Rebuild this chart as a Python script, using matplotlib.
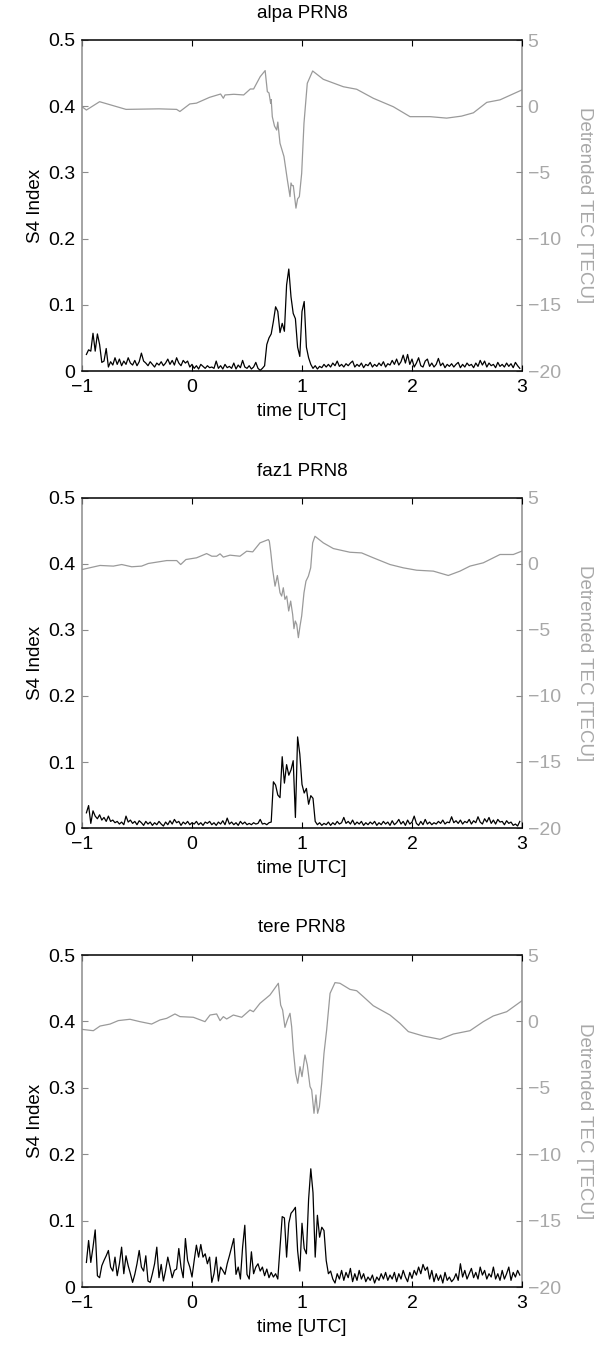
import numpy as np
import matplotlib
matplotlib.use("Agg")
import matplotlib.pyplot as plt

plt.rcParams['font.family'] = ['Liberation Sans', 'DejaVu Sans']

titles = ["alpa PRN8", "faz1 PRN8", "tere PRN8"]
xticks = [-1, 0, 1, 2, 3]
s4_ticks = [0, 0.1, 0.2, 0.3, 0.4, 0.5]
tec_ticks = [-20, -15, -10, -5, 0, 5]

# S4 sampling times (hours UTC), every 0.02 h
s4_time = np.arange(198) * 0.02 - 0.96

s4_alpa = [
    0.025, 0.032, 0.030, 0.057, 0.030, 0.056, 0.040, 0.013, 0.015, 0.034,
    0.006, 0.014, 0.009, 0.020, 0.010, 0.018, 0.008, 0.015, 0.010, 0.020,
    0.012, 0.009, 0.016, 0.008, 0.014, 0.027, 0.015, 0.012, 0.008, 0.014,
    0.010, 0.006, 0.012, 0.009, 0.014, 0.008, 0.012, 0.018, 0.010, 0.016,
    0.009, 0.020, 0.012, 0.008, 0.016, 0.012, 0.015, 0.006, 0.010, 0.004,
    0.008, 0.003, 0.010, 0.007, 0.004, 0.008, 0.005, 0.006, 0.004, 0.015,
    0.004, 0.008, 0.003, 0.010, 0.005, 0.007, 0.004, 0.012, 0.003, 0.009,
    0.005, 0.016, 0.006, 0.004, 0.008, 0.003, 0.006, 0.013, 0.004, 0.001,
    0.004, 0.008, 0.040, 0.050, 0.056, 0.075, 0.097, 0.090, 0.058, 0.072,
    0.060, 0.130, 0.154, 0.112, 0.087, 0.079, 0.036, 0.022, 0.090, 0.105,
    0.036, 0.020, 0.010, 0.004, 0.008, 0.003, 0.007, 0.005, 0.010, 0.006,
    0.010, 0.006, 0.012, 0.008, 0.015, 0.007, 0.010, 0.006, 0.011, 0.008,
    0.012, 0.015, 0.006, 0.010, 0.007, 0.012, 0.005, 0.010, 0.008, 0.013,
    0.006, 0.010, 0.007, 0.012, 0.008, 0.014, 0.006, 0.011, 0.009, 0.016,
    0.010, 0.018, 0.009, 0.014, 0.024, 0.012, 0.025, 0.010, 0.018, 0.006,
    0.012, 0.020, 0.008, 0.006, 0.015, 0.018, 0.007, 0.012, 0.006, 0.010,
    0.019, 0.008, 0.012, 0.005, 0.010, 0.007, 0.011, 0.006, 0.010, 0.013,
    0.005, 0.010, 0.006, 0.012, 0.008, 0.010, 0.005, 0.012, 0.007, 0.016,
    0.009, 0.015, 0.006, 0.012, 0.008, 0.010, 0.005, 0.013, 0.007, 0.010,
    0.006, 0.012, 0.007, 0.011, 0.005, 0.013, 0.008, 0.004,
]

s4_faz1 = [
    0.023, 0.034, 0.007, 0.026, 0.018, 0.014, 0.020, 0.012, 0.016, 0.010,
    0.018, 0.010, 0.012, 0.008, 0.010, 0.006, 0.009, 0.005, 0.018, 0.009,
    0.012, 0.007, 0.010, 0.005, 0.011, 0.008, 0.004, 0.010, 0.006, 0.009,
    0.004, 0.008, 0.005, 0.010, 0.006, 0.003, 0.009, 0.005, 0.011, 0.006,
    0.013, 0.008, 0.010, 0.004, 0.009, 0.006, 0.010, 0.005, 0.008, 0.006,
    0.010, 0.005, 0.008, 0.004, 0.009, 0.007, 0.010, 0.005, 0.008, 0.004,
    0.009, 0.006, 0.011, 0.005, 0.015, 0.006, 0.009, 0.005, 0.008, 0.004,
    0.010, 0.006, 0.009, 0.005, 0.007, 0.005, 0.008, 0.006, 0.007, 0.013,
    0.006, 0.007, 0.005, 0.008, 0.009, 0.070, 0.065, 0.050, 0.046, 0.108,
    0.068, 0.096, 0.080, 0.088, 0.102, 0.016, 0.138, 0.112, 0.066, 0.053,
    0.060, 0.036, 0.049, 0.045, 0.010, 0.005, 0.008, 0.004, 0.007, 0.005,
    0.009, 0.004, 0.008, 0.005, 0.010, 0.006, 0.008, 0.016, 0.007, 0.010,
    0.006, 0.012, 0.005, 0.009, 0.006, 0.010, 0.004, 0.008, 0.005, 0.009,
    0.006, 0.010, 0.004, 0.008, 0.005, 0.010, 0.006, 0.009, 0.004, 0.011,
    0.005, 0.008, 0.013, 0.006, 0.010, 0.004, 0.012, 0.006, 0.009, 0.018,
    0.007, 0.004, 0.010, 0.005, 0.013, 0.006, 0.009, 0.005, 0.008, 0.006,
    0.010, 0.007, 0.012, 0.006, 0.009, 0.008, 0.017, 0.008, 0.011, 0.007,
    0.012, 0.006, 0.010, 0.008, 0.013, 0.006, 0.011, 0.008, 0.017, 0.009,
    0.006, 0.014, 0.009, 0.016, 0.007, 0.012, 0.006, 0.013, 0.009, 0.010,
    0.005, 0.011, 0.007, 0.009, 0.004, 0.006, 0.003, 0.010,
]

s4_tere = [
    0.037, 0.070, 0.037, 0.060, 0.086, 0.017, 0.014, 0.032, 0.040, 0.047,
    0.055, 0.030, 0.024, 0.045, 0.017, 0.035, 0.060, 0.020, 0.047, 0.032,
    0.020, 0.007, 0.019, 0.035, 0.055, 0.030, 0.024, 0.047, 0.009, 0.007,
    0.020, 0.035, 0.060, 0.014, 0.034, 0.009, 0.025, 0.045, 0.030, 0.014,
    0.025, 0.027, 0.058, 0.030, 0.014, 0.073, 0.040, 0.030, 0.015, 0.040,
    0.063, 0.045, 0.064, 0.045, 0.050, 0.035, 0.045, 0.007, 0.020, 0.045,
    0.009, 0.030, 0.025, 0.019, 0.035, 0.047, 0.060, 0.073, 0.019, 0.030,
    0.012, 0.060, 0.093, 0.019, 0.012, 0.053, 0.020, 0.030, 0.035, 0.024,
    0.030, 0.017, 0.027, 0.014, 0.022, 0.015, 0.020, 0.012, 0.060, 0.106,
    0.104, 0.045, 0.096, 0.111, 0.115, 0.120, 0.055, 0.024, 0.096, 0.058,
    0.050, 0.132, 0.178, 0.142, 0.045, 0.108, 0.075, 0.090, 0.085, 0.040,
    0.020, 0.024, 0.012, 0.006, 0.020, 0.012, 0.025, 0.010, 0.022, 0.014,
    0.028, 0.008, 0.020, 0.010, 0.025, 0.012, 0.020, 0.008, 0.015, 0.010,
    0.018, 0.006, 0.015, 0.010, 0.020, 0.012, 0.022, 0.010, 0.018, 0.012,
    0.022, 0.008, 0.020, 0.012, 0.025, 0.015, 0.008, 0.022, 0.013, 0.025,
    0.018, 0.030, 0.020, 0.034, 0.025, 0.030, 0.012, 0.025, 0.008, 0.020,
    0.010, 0.018, 0.006, 0.022, 0.010, 0.015, 0.008, 0.012, 0.020, 0.010,
    0.035, 0.015, 0.025, 0.012, 0.020, 0.028, 0.014, 0.022, 0.012, 0.030,
    0.018, 0.025, 0.012, 0.020, 0.015, 0.030, 0.012, 0.020, 0.010, 0.025,
    0.012, 0.020, 0.030, 0.010, 0.022, 0.015, 0.025, 0.018,
]

# Detrended TEC (TECU) read at irregular times
tec_alpa_t = [-1.0, -0.96, -0.84, -0.6, -0.3, -0.14, -0.11, -0.02, 0.04, 0.16,
              0.26, 0.285, 0.3, 0.38, 0.47, 0.53, 0.56, 0.62, 0.665, 0.685,
              0.7, 0.715, 0.72, 0.73, 0.75, 0.77, 0.78, 0.8, 0.836, 0.867,
              0.891, 0.9, 0.91, 0.921, 0.945, 0.96, 0.976, 0.997, 1.018, 1.048,
              1.097, 1.194, 1.376, 1.497, 1.648, 1.83, 1.982, 2.164, 2.315, 2.45,
              2.558, 2.68, 2.8, 2.997]
tec_alpa_v = [-0.04, -0.29, 0.34, -0.24, -0.2, -0.24, -0.4, 0.17, 0.23, 0.67,
              0.92, 0.6, 0.85, 0.9, 0.85, 1.3, 1.3, 2.23, 2.69, 1.1,
              1.0, 0.22, 0.5, -0.79, -1.5, -1.8, -1.2, -2.8, -3.8, -5.57,
              -6.83, -5.8, -6.0, -6.0, -7.7, -7.0, -6.83, -5.07, -1.29, 1.73,
              2.66, 2.03, 1.47, 1.28, 0.6, -0.04, -0.79, -0.79, -0.9, -0.75,
              -0.5, 0.29, 0.48, 1.22]

tec_faz1_t = [-1.0, -0.836, -0.715, -0.639, -0.548, -0.458, -0.397, -0.23, -0.139, -0.103,
              -0.055, 0.042, 0.133, 0.18, 0.224, 0.255, 0.285, 0.345, 0.436, 0.497,
              0.552, 0.618, 0.694, 0.703, 0.715, 0.733, 0.755, 0.776, 0.8, 0.815,
              0.83, 0.845, 0.861, 0.879, 0.897, 0.915, 0.927, 0.939, 0.952, 0.967,
              0.982, 0.997, 1.018, 1.036, 1.058, 1.079, 1.097, 1.118, 1.194, 1.285,
              1.436, 1.542, 1.648, 1.8, 1.921, 2.042, 2.194, 2.33, 2.436, 2.527,
              2.648, 2.8, 2.921, 2.997]
tec_faz1_v = [-0.42, -0.11, -0.16, -0.04, -0.21, -0.16, 0.04, 0.26, 0.26, -0.04,
              0.34, 0.47, 0.79, 0.59, 0.59, 0.77, 0.52, 0.67, 0.59, 0.97,
              0.92, 1.6, 1.85, 1.73, 0.97, -0.42, -1.68, -0.87, -2.18, -2.43,
              -1.8, -2.68, -2.43, -3.56, -2.81, -3.82, -4.9, -4.32, -4.57, -5.58,
              -4.7, -3.94, -2.18, -1.3, -0.92, -0.29, 1.6, 2.1, 1.6, 1.17,
              0.89, 0.84, 0.47, -0.04, -0.29, -0.47, -0.54, -0.87, -0.54, -0.16,
              0.09, 0.72, 0.72, 0.97]

tec_tere_t = [-1.0, -0.897, -0.836, -0.745, -0.67, -0.564, -0.473, -0.367, -0.291, -0.23,
              -0.155, -0.109, 0.012, 0.118, 0.164, 0.224, 0.255, 0.285, 0.315, 0.376,
              0.452, 0.527, 0.558, 0.618, 0.709, 0.785, 0.806, 0.824, 0.845, 0.867,
              0.891, 0.906, 0.921, 0.942, 0.961, 0.982, 1.0, 1.027, 1.048, 1.073,
              1.088, 1.109, 1.127, 1.142, 1.158, 1.179, 1.2, 1.224, 1.255, 1.3,
              1.345, 1.436, 1.497, 1.558, 1.648, 1.8, 1.891, 1.967, 2.103, 2.255,
              2.376, 2.527, 2.648, 2.739, 2.861, 2.997]
tec_tere_v = [-0.6, -0.7, -0.35, -0.2, 0.06, 0.16, -0.02, -0.2, 0.11, 0.23,
              0.56, 0.36, 0.31, -0.02, 0.48, 0.56, 0.06, 0.36, 0.18, 0.48,
              0.31, 0.86, 0.73, 1.36, 1.99, 2.87, 1.23, 0.86, -0.45, 0.11,
              0.61, -0.4, -2.15, -3.91, -4.66, -3.41, -4.16, -2.53, -3.28, -4.91,
              -5.16, -6.92, -5.54, -6.92, -6.42, -4.66, -2.4, -0.65, 2.11, 2.92,
              2.87, 2.41, 2.31, 1.86, 1.18, 0.48, -0.15, -0.77, -1.1, -1.35,
              -0.95, -0.7, -0.02, 0.41, 0.73, 1.54]

panels = [
    (titles[0], s4_alpa, tec_alpa_t, tec_alpa_v),
    (titles[1], s4_faz1, tec_faz1_t, tec_faz1_v),
    (titles[2], s4_tere, tec_tere_t, tec_tere_v),
]

W, H = 606, 1345
fig = plt.figure(figsize=(W / 100, H / 100), dpi=100)

boxes = [(40, 371), (498, 828), (955, 1287)]
x0, x1 = 82, 522

GRAY_LINE = '#9a9a9a'
GRAY_SPINE = '#8c8c8c'
GRAY_TEXT = '#a8a8a8'
FS_TICK = 14
FS_LAB = 13.5

for (top, bot), (title, s4, tt, tv) in zip(boxes, panels):
    ax = fig.add_axes([x0 / W, 1 - bot / H, (x1 - x0) / W, (bot - top) / H])
    ax2 = ax.twinx()
    h = bot - top

    ax2.plot(tt, tv, color=GRAY_LINE, lw=0.9)
    ax.plot(s4_time, s4, color='black', lw=0.9)
    ax.set_zorder(ax2.get_zorder() + 1)
    ax.patch.set_visible(False)

    ax.set_xlim(-1, 3)
    ax.set_ylim(0, 0.5)
    ax2.set_ylim(-20, 5)
    ax.set_xticks(xticks)
    ax.set_xticklabels([f"{v}".replace('-', '\u2212') for v in xticks])
    ax.set_yticks(s4_ticks)
    ax.set_yticklabels(['0', '0.1', '0.2', '0.3', '0.4', '0.5'])
    ax2.set_yticks(tec_ticks)
    ax2.set_yticklabels([f"{v}".replace('-', '\u2212') for v in tec_ticks])

    ax.tick_params(axis='x', direction='in', length=4, width=0.8, top=True,
                   bottom=True, labelsize=FS_TICK, pad=6, color='black')
    ax.tick_params(axis='y', direction='in', length=4, width=0.8, left=True,
                   right=False, labelsize=FS_TICK, pad=5, color=GRAY_SPINE,
                   labelcolor='black')
    ax2.tick_params(axis='y', direction='in', length=4, width=0.8,
                    labelsize=FS_TICK, pad=4, color=GRAY_SPINE,
                    labelcolor=GRAY_TEXT)

    for s in ['top', 'bottom']:
        ax.spines[s].set_color('black')
        ax.spines[s].set_linewidth(1.1)
    ax.spines['left'].set_color(GRAY_SPINE)
    ax.spines['left'].set_linewidth(1.1)
    ax.spines['right'].set_visible(False)
    for s in ['top', 'bottom', 'left']:
        ax2.spines[s].set_visible(False)
    ax2.spines['right'].set_color(GRAY_SPINE)
    ax2.spines['right'].set_linewidth(1.1)

    ax.text(0.5, 1 + 27 / h, title, transform=ax.transAxes, ha='center',
            va='center', fontsize=FS_LAB)
    ax.text(0.5, -40 / h, 'time [UTC]', transform=ax.transAxes, ha='center',
            va='center', fontsize=FS_LAB)
    ax.text((35 - x0) / (x1 - x0), 0.5, 'S4 Index', transform=ax.transAxes,
            ha='center', va='center', rotation=90, fontsize=FS_LAB)
    ax.text((585 - x0) / (x1 - x0), 0.5, 'Detrended TEC [TECU]',
            transform=ax.transAxes, ha='center', va='center', rotation=270,
            fontsize=FS_LAB, color=GRAY_TEXT)

fig.savefig('out.png', dpi=100)
